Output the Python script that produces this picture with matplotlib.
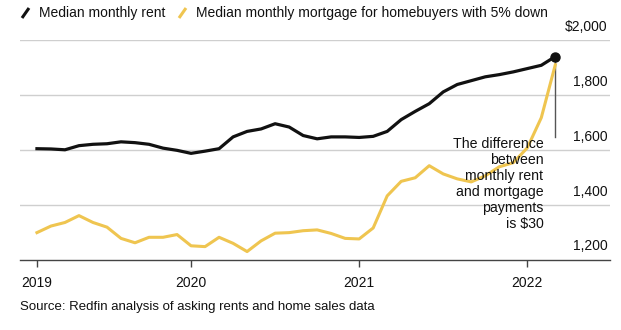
import matplotlib.pyplot as plt
from matplotlib.lines import Line2D

plt.rcParams['font.family'] = ['Liberation Sans', 'DejaVu Sans']

# monthly, Feb 2019 .. Mar 2022
rent = [1604, 1603, 1600, 1615, 1620, 1622, 1629, 1626, 1620, 1606, 1598, 1587,
        1595, 1604, 1647, 1667, 1676, 1695, 1683, 1652, 1640, 1647, 1647, 1645,
        1649, 1667, 1710, 1740, 1768, 1811, 1838, 1852, 1866, 1874, 1884, 1896,
        1908, 1940]
mortgage = [1298, 1322, 1335, 1360, 1335, 1318, 1277, 1261, 1281, 1281, 1291, 1250,
            1247, 1281, 1259, 1229, 1268, 1296, 1298, 1305, 1308, 1295, 1277, 1275,
            1315, 1432, 1485, 1498, 1542, 1512, 1494, 1483, 1505, 1538, 1553, 1607,
            1717, 1910]
tick_pos = [0, 11, 23, 35]
tick_labels = ['2019', '2020', '2021', '2022']
y_ticks = [1200, 1400, 1600, 1800, 2000]
y_labels = ['1,200', '1,400', '1,600', '1,800', '$2,000']

BLACK = '#111111'
YELLOW = '#efc550'
GRID = '#cfcfcf'

fig = plt.figure(figsize=(6.21, 3.30), dpi=100)
ax = fig.add_axes([0.0322, 0.2136, 0.950, 0.665])

x = list(range(len(rent)))
ax.plot(x, mortgage, color=YELLOW, lw=2.2, solid_joinstyle='round', zorder=3)
ax.plot(x, rent, color=BLACK, lw=2.3, solid_joinstyle='round', zorder=4)
ax.plot([x[-1]], [rent[-1]], 'o', color=BLACK, ms=6.5, zorder=5)

# annotation
ax.plot([x[-1], x[-1]], [1648, rent[-1]], color='#555555', lw=1, zorder=2)
ax.text(36.15, 1646, 'The difference\nbetween\nmonthly rent\nand mortgage\npayments\nis $30',
        ha='right', va='top', fontsize=10.2, color=BLACK, linespacing=1.18, zorder=6)

ax.set_xlim(-1.21, 40.9)
ax.set_ylim(1200, 2000)

for v, lab in zip(y_ticks, y_labels):
    if v > 1200:
        ax.axhline(v, color=GRID, lw=1, zorder=1)
    ax.text(40.75, v + 22, lab, ha='right', va='bottom', fontsize=10, color=BLACK)

ax.set_yticks([])
ax.set_xticks(tick_pos)
ax.set_xticklabels(tick_labels, fontsize=10, color=BLACK)
ax.tick_params(axis='x', length=5, width=1, color='#444444', pad=7)
for s in ['top', 'right', 'left']:
    ax.spines[s].set_visible(False)
ax.spines['bottom'].set_color('#444444')
ax.spines['bottom'].set_linewidth(1)

# legend
W, H = 621, 330
def px(xp, yp):
    return xp / W, 1 - yp / H

for (x0, c, label, tx) in [(22, BLACK, 'Median monthly rent', 39),
                           (179, YELLOW, 'Median monthly mortgage for homebuyers with 5% down', 196)]:
    p0 = px(x0, 18)
    p1 = px(x0 + 7, 8)
    fig.add_artist(Line2D([p0[0], p1[0]], [p0[1], p1[1]], color=c, lw=2.2,
                          solid_capstyle='butt', transform=fig.transFigure))
    fig.text(*px(tx, 13), label, ha='left', va='center', fontsize=10, color=BLACK)

fig.text(*px(20, 307), 'Source: Redfin analysis of asking rents and home sales data',
         ha='left', va='center', fontsize=9.5, color=BLACK)

fig.savefig('out.png', dpi=100)
